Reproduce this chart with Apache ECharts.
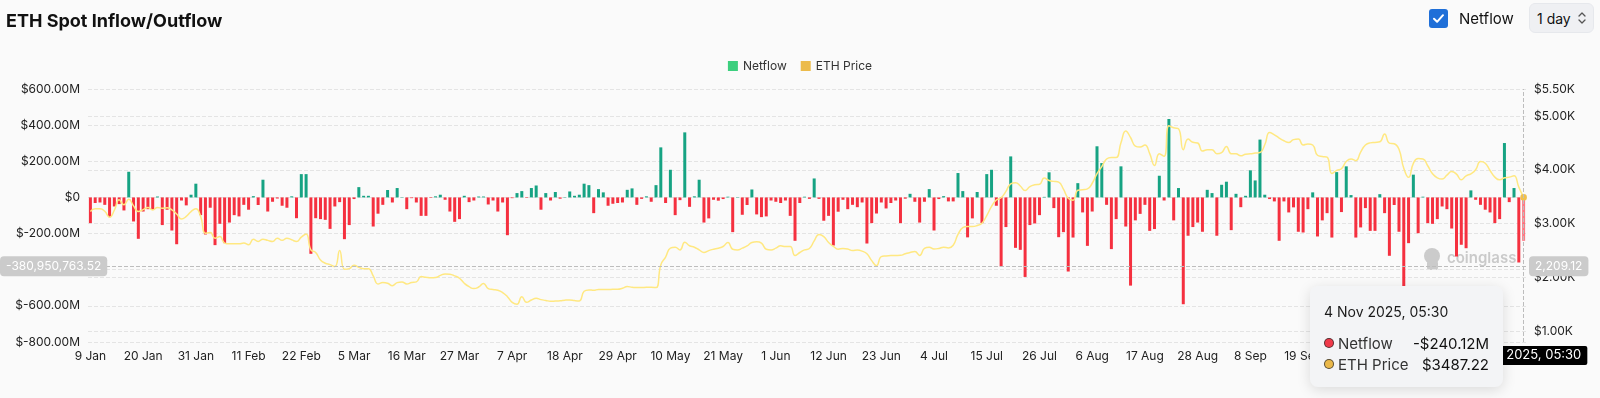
<!DOCTYPE html>
<html>
<head>
<meta charset="utf-8">
<title>ETH Spot Inflow/Outflow</title>
<script src="https://cdn.jsdelivr.net/npm/echarts@6/dist/echarts.min.js"></script>
<style>
  html, body { margin: 0; padding: 0; background: #fafafa; }
  #wrap { position: relative; width: 1600px; height: 398px; font-family: Inter, 'Noto Sans', sans-serif; }
  #chart { position: absolute; left: 0; top: 0; width: 1600px; height: 398px; }
  .toggle { position: absolute; left: 1429px; top: 9px; display: flex; align-items: center; }
  .toggle .box { width: 19px; height: 19px; border-radius: 3px; background: #1f6fd8; display: flex; align-items: center; justify-content: center; }
  .toggle .label { margin-left: 11px; font-size: 15px; color: #111; }
  .period { position: absolute; left: 1529px; top: 3px; width: 65px; height: 30px; box-sizing: border-box;
    border-radius: 6px; background: #eff0f3; border: 1px solid #e6e8ec; display: flex; align-items: center;
    padding-left: 7px; font-size: 14px; color: #111; }
  .period svg { margin-left: 7px; }
</style>
</head>
<body>
<div id="wrap">
  <div id="chart"></div>
  <div class="toggle">
    <div class="box">
      <svg width="13" height="13" viewBox="0 0 13 13"><path d="M2 6.8 L5.1 9.8 L11 3.2" fill="none" stroke="#fff" stroke-width="2" stroke-linecap="round" stroke-linejoin="round"/></svg>
    </div>
    <span class="label">Netflow</span>
  </div>
  <div class="period">
    <span>1 day</span>
    <svg width="8" height="14" viewBox="0 0 8 14"><path d="M1 5 L4 2 L7 5 M1 9 L4 12 L7 9" fill="none" stroke="#555" stroke-width="1.3" stroke-linecap="round" stroke-linejoin="round"/></svg>
  </div>
</div>
<script>
// daily netflow, $M, from 9 Jan 2025
const netflowM = [
  -142, -31, -28, -41, -109, -50, -37, -72, 142, -133,
  -229, -78, -65, -68, 5, -153, -68, -183, -259, -17,
  -44, 15, 76, -98, -205, -57, -264, -146, -253, -139,
  -98, -105, -41, -68, 7, -42, 98, -78, -24, -6,
  -46, -57, 6, -115, 129, 129, -312, -115, -120, -124,
  -174, -50, -26, -231, -153, -9, 57, 9, 9, -161,
  -90, -41, 41, -28, 52, 2, -65, -4, -28, -102,
  -102, -3, 6, 15, -13, -78, -135, -120, 9, -26,
  -17, 5, 5, -39, -17, -78, -28, -209, -4, 24,
  35, -3, 52, 66, -68, 24, -17, 30, -7, 2,
  33, 9, 15, 76, 68, -87, 46, 28, -46, -35,
  -31, -28, 42, 50, -41, -8, 6, -24, 68, 277,
  -31, 153, -98, -15, 360, -52, 6, 98, -139, -116,
  -13, -18, -9, 4, -192, 2, -96, -42, 44, -94,
  -109, -105, -17, -24, -31, -17, -102, -240, -31, 4,
  -8, 105, -8, -129, -102, -266, -79, -13, -65, -41,
  -54, -28, -255, -142, -89, -28, -61, -31, -17, -142,
  -7, 20, -24, -139, -24, 46, -183, -9, 7, -22,
  -22, 135, 35, -221, -116, 30, -142, 129, 153, -46,
  -382, -164, 227, -279, -290, -440, -153, -144, -98, 3,
  139, -59, -220, -192, -410, -222, 79, -83, -268, -78,
  283, 190, -41, -286, -120, 172, -161, -488, -127, -91,
  -41, -185, -175, 120, -17, 434, -127, 52, -591, -212,
  -164, -139, -190, 42, 24, -212, 70, 87, -181, 20,
  -54, 9, 150, 94, 320, 15, -9, -22, -240, -22,
  -83, -55, -190, -194, -65, 28, -216, -127, -87, -222,
  140, -81, 172, 13, -222, -166, -59, -185, -185, 18,
  -87, -323, -42, -190, -560, -253, 126, -198, 4, -142,
  -146, -120, -50, -65, -172, -327, -262, -281, 39, -13,
  -41, -68, -83, -142, -120, 301, -26, 52, -360, -240.12,
]

const ethPrice = [
  3225, 3275, 3275, 3230, 3121, 3250, 3442, 3350, 3455, 3330,
  3225, 3260, 3300, 3255, 3300, 3285, 3295, 3255, 3180, 3085,
  3135, 3225, 3275, 3135, 2823, 2835, 2730, 2760, 2640, 2625,
  2625, 2625, 2640, 2610, 2712, 2670, 2712, 2690, 2670, 2730,
  2690, 2730, 2700, 2670, 2750, 2810, 2513, 2465, 2327, 2265,
  2240, 2203, 2500, 2154, 2165, 2229, 2190, 2165, 2165, 2030,
  1881, 1906, 1894, 1849, 1906, 1919, 1881, 1906, 1919, 2017,
  2005, 1995, 2000, 2040, 2067, 2061, 2030, 1987, 1894, 1830,
  1795, 1824, 1890, 1795, 1776, 1763, 1720, 1645, 1540, 1504,
  1645, 1540, 1582, 1614, 1590, 1575, 1560, 1564, 1570, 1580,
  1584, 1572, 1565, 1745, 1770, 1763, 1780, 1776, 1776, 1782,
  1782, 1800, 1832, 1820, 1815, 1813, 1820, 1818, 1813, 2234,
  2380, 2545, 2560, 2513, 2656, 2590, 2563, 2513, 2465, 2500,
  2526, 2545, 2576, 2650, 2526, 2513, 2545, 2588, 2650, 2663,
  2638, 2526, 2513, 2545, 2588, 2576, 2576, 2407, 2465, 2513,
  2540, 2680, 2800, 2760, 2650, 2580, 2526, 2540, 2530, 2500,
  2510, 2490, 2440, 2314, 2221, 2389, 2400, 2407, 2410, 2413,
  2440, 2465, 2482, 2410, 2540, 2560, 2530, 2540, 2563, 2550,
  2600, 2800, 2925, 2947, 2947, 2965, 3009, 3150, 3320, 3440,
  3480, 3600, 3740, 3760, 3700, 3615, 3689, 3721, 3730, 3846,
  3800, 3785, 3770, 3640, 3470, 3436, 3620, 3630, 3645, 3750,
  3930, 4060, 4200, 4230, 4230, 4500, 4720, 4600, 4440, 4422,
  4460, 4300, 4080, 4300, 4250, 4818, 4780, 4763, 4372, 4571,
  4510, 4498, 4350, 4372, 4372, 4300, 4320, 4434, 4300, 4297,
  4260, 4290, 4297, 4310, 4320, 4465, 4693, 4650, 4590, 4540,
  4508, 4560, 4570, 4460, 4480, 4460, 4270, 4248, 4236, 3930,
  3990, 4020, 4154, 4200, 4170, 4330, 4460, 4500, 4508, 4520,
  4664, 4496, 4484, 4380, 4030, 3860, 4120, 4210, 4200, 4075,
  3926, 3851, 3827, 3901, 3968, 3920, 3814, 3888, 3926, 4000,
  4154, 4123, 3987, 3864, 3814, 3851, 3864, 3888, 3679, 3487.22,
]

const priceTicks = [1000, 2000, 3000, 4000, 5000, 5500]
const pointerValue = -380950763.52

const MONTHS = ['Jan', 'Feb', 'Mar', 'Apr', 'May', 'Jun', 'Jul', 'Aug', 'Sep', 'Oct', 'Nov', 'Dec']
const start = Date.UTC(2025, 0, 9)
const dates = netflowM.map((_, i) => new Date(start + i * 86400000).toISOString().slice(0, 10))

const GREEN = '#16a383'
const RED = '#f5303f'
const FONT = 'Inter, "Noto Sans", sans-serif'

function shortDate(s) {
  const d = new Date(s + 'T00:00:00Z')
  return `${d.getUTCDate()} ${MONTHS[d.getUTCMonth()]}`
}
function longDate(s) {
  const d = new Date(s + 'T00:00:00Z')
  return `${d.getUTCDate()} ${MONTHS[d.getUTCMonth()]} ${d.getUTCFullYear()}, 05:30`
}
const num2 = v => Number(v).toLocaleString('en-US', { minimumFractionDigits: 2, maximumFractionDigits: 2 })

function dot(color) {
  return `<span style="display:inline-block;width:8px;height:8px;border-radius:50%;background:${color};` +
    `border:1px solid rgba(40,40,40,0.75);margin-right:4px;vertical-align:1px"></span>`
}

function tooltipHtml(params) {
  const i = params[0].dataIndex
  const v = netflowM[i]
  const flow = (v < 0 ? '-$' : '$') + Math.abs(v).toFixed(2) + 'M'
  const row = (c, name, val) =>
    `<div style="display:flex;justify-content:space-between;align-items:center;height:21px;font-size:15px;color:#333">` +
    `<span>${dot(c)}${name}</span><span style="color:#111">${val}</span></div>`
  return `<div style="width:165px;padding:16px 14px 12px 14px;font-family:${FONT}">` +
    `<div style="font-size:14px;line-height:20px;color:#1a1a1a;margin-bottom:11px">${longDate(dates[i])}</div>` +
    row(v < 0 ? '#f03a4a' : GREEN, 'Netflow', flow) +
    row('#eab84a', 'ETH Price', '$' + ethPrice[i].toFixed(2)) +
    `</div>`
}

const chart = echarts.init(document.getElementById('chart'), null, { renderer: 'canvas' })

const option = {
  animation: false,
  backgroundColor: '#fafafa',
  textStyle: { fontFamily: FONT },
  title: {
    text: 'ETH Spot Inflow/Outflow',
    left: 1,
    top: 8,
    textStyle: { fontSize: 18, fontWeight: 700, color: '#111', fontFamily: FONT },
  },
  legend: {
    top: 55,
    left: 'center',
    icon: 'rect',
    itemWidth: 10,
    itemHeight: 10,
    itemGap: 14,
    textStyle: { fontSize: 12, color: '#333' },
    data: [
      { name: 'Netflow', itemStyle: { color: '#3ccf7e' } },
      { name: 'ETH Price', itemStyle: { color: '#ecbb4b' } },
    ],
  },
  grid: { left: 88, right: 74, top: 89, bottom: 56 },
  tooltip: {
    trigger: 'axis',
    alwaysShowContent: true,
    transitionDuration: 0,
    position: [1310, 286],
    backgroundColor: '#f3f4f6',
    borderWidth: 0,
    padding: 0,
    extraCssText: 'border-radius:8px;box-shadow:0 3px 14px rgba(0,0,0,0.13);',
    axisPointer: {
      type: 'cross',
      crossStyle: { color: '#bdbdbd', type: 'dashed', width: 1 },
      lineStyle: { color: '#bdbdbd', type: 'dashed', width: 1 },
    },
    formatter: tooltipHtml,
  },
  xAxis: {
    type: 'category',
    data: dates,
    axisLine: { show: false },
    axisTick: { show: false },
    axisLabel: { interval: 10, color: '#222', fontSize: 12, margin: 8, formatter: shortDate },
    axisPointer: {
      label: {
        backgroundColor: '#000', color: '#fff', fontSize: 13, padding: [3, 6], margin: 4, borderRadius: 2,
        formatter: p => longDate(p.value),
      },
    },
  },
  yAxis: [
    {
      type: 'value',
      min: -800e6,
      max: 600e6,
      interval: 200e6,
      axisLabel: { color: '#222', fontSize: 12, margin: 8,
        formatter: v => (v === 0 ? '$0' : '$' + (v / 1e6).toFixed(2) + 'M') },
      splitLine: { lineStyle: { color: '#e4e4e4', type: 'dashed' } },
      axisPointer: {
        label: { backgroundColor: '#cbcbcb', color: '#fff', fontSize: 12, padding: [4, 6], borderRadius: 4,
          formatter: p => num2(p.value) },
      },
    },
    {
      type: 'value',
      position: 'right',
      min: 803.3,
      max: 5500,
      axisLabel: { customValues: priceTicks, color: '#222', fontSize: 12, margin: 8,
        formatter: v => '$' + (v / 1000).toFixed(2) + 'K' },
      axisTick: { show: false, customValues: priceTicks },
      axisLine: { show: false },
      splitLine: { show: true, lineStyle: { color: '#e4e4e4', type: 'dashed' } },
      axisPointer: {
        label: { backgroundColor: '#cbcbcb', color: '#fff', fontSize: 12, padding: [4, 6], borderRadius: 4,
          formatter: p => num2(p.value) },
      },
    },
  ],
  graphic: [
    { type: 'circle', shape: { cx: 1432, cy: 256, r: 8 }, style: { fill: '#cbcbcb' } },
    { type: 'rect', shape: { x: 1427, y: 261, width: 11, height: 9, r: 2 }, style: { fill: '#cbcbcb' } },
    { type: 'text', style: { x: 1447, y: 258, verticalAlign: 'middle', text: 'coinglass',
      font: `600 15px ${FONT}`, fill: '#cacaca' } },
  ],
  series: [
    {
      name: 'Netflow',
      type: 'bar',
      data: netflowM.map(v => v * 1e6),
      barWidth: 3,
      itemStyle: { color: p => (p.value >= 0 ? GREEN : RED) },
      emphasis: { itemStyle: { opacity: 0.65 } },
    },
    {
      name: 'ETH Price',
      type: 'line',
      yAxisIndex: 1,
      data: ethPrice,
      smooth: true,
      showSymbol: false,
      symbol: 'circle',
      symbolSize: 6,
      lineStyle: { color: '#fcd376', width: 1.5 },
      itemStyle: { color: '#f0c04c' },
    },
  ],
}

chart.setOption(option)

const px = chart.convertToPixel({ gridIndex: 0 }, [dates.length - 1, pointerValue])
chart.dispatchAction({ type: 'showTip', x: px[0], y: px[1] })
</script>
</body>
</html>
